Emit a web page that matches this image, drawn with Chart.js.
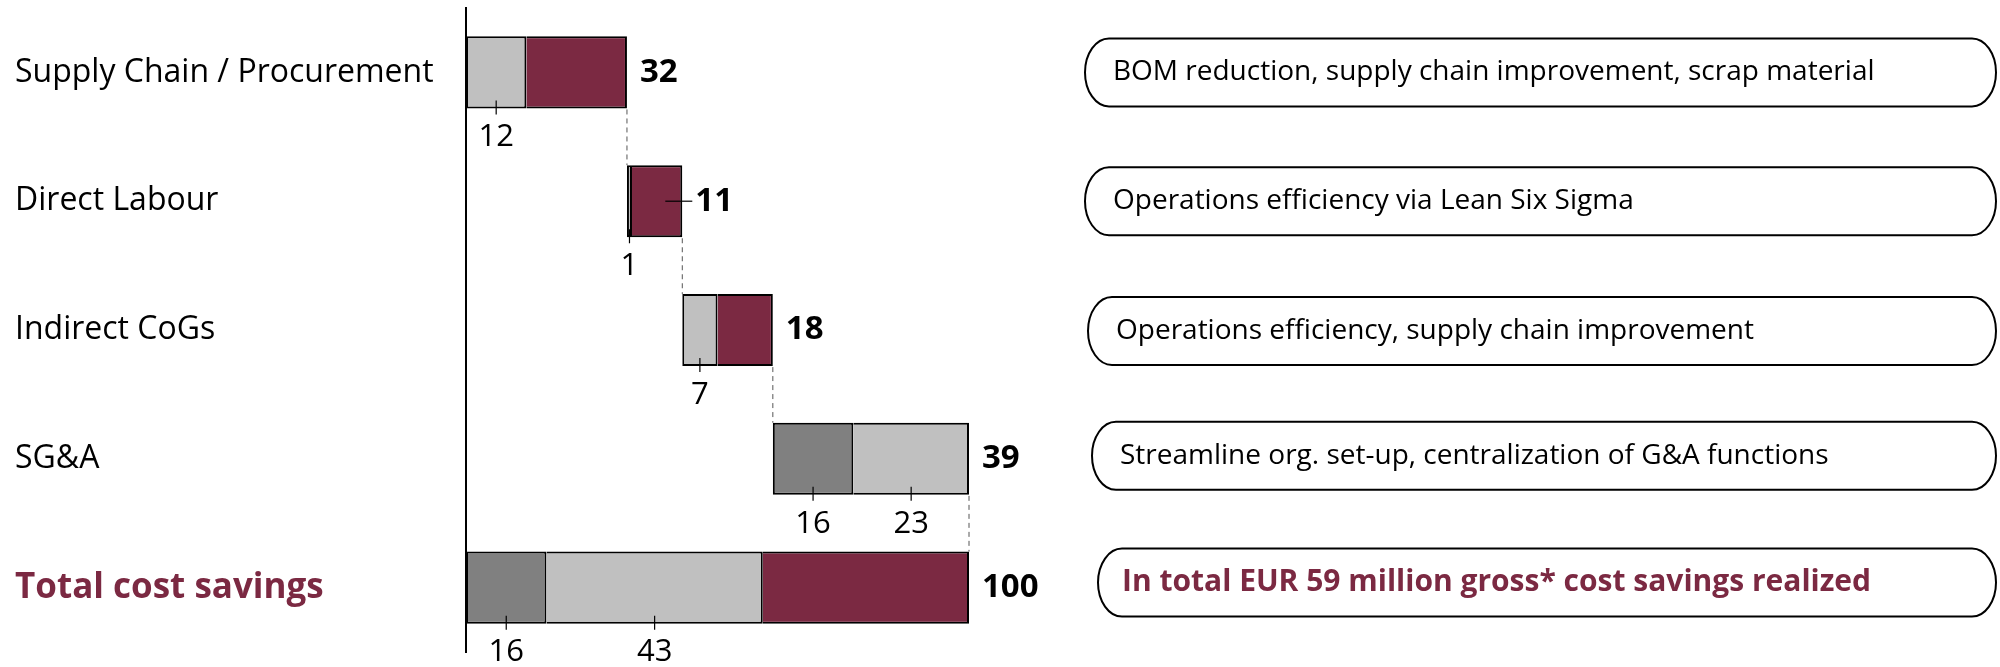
<!DOCTYPE html>
<html>
<head>
<meta charset="utf-8">
<script src="https://cdn.jsdelivr.net/npm/chart.js@4.4.1/dist/chart.umd.min.js"></script>
<style>
  html, body { margin: 0; padding: 0; background: #fff; }
  #wrap { position: relative; width: 2000px; height: 667px; }
</style>
</head>
<body>
<div id="wrap"><canvas id="chart"></canvas></div>
<script>
// waterfall of cost savings, values in % of total
const categories = ["Supply Chain / Procurement", "Direct Labour", "Indirect CoGs", "SG&A", "Total cost savings"]
const darkGray = [null, null, null, 16, 16]
const lightGray = [12, 1, 7, 23, 43]
const maroon = [20, 10, 11, null, 41]
const notes = [
  "BOM reduction, supply chain improvement, scrap material",
  "Operations efficiency via Lean Six Sigma",
  "Operations efficiency, supply chain improvement",
  "Streamline org. set-up, centralization of G&A functions",
  "In total EUR 59 million gross* cost savings realized"
]
const totalRow = 4

const MAROON = "#7b2942"
const LIGHT = "#c0c0c0"
const DARK = "#808080"
const FONT = '"Open Sans", sans-serif'

const segs = [darkGray, lightGray, maroon]
const totals = categories.map((_, i) => segs.reduce((s, d) => s + (d[i] || 0), 0))
let run = 0
const offsets = categories.map((_, i) => {
  if (i === totalRow) return null
  const b = run
  run += totals[i]
  return b || null
})

// first visible segment of a row gets the left border
const firstSeg = (i) => 1 + segs.findIndex((d) => d[i] != null)
const segBorder = (ctx) => ({
  top: 2, bottom: 2, right: 2,
  left: firstSeg(ctx.dataIndex) === ctx.datasetIndex ? 2 : 0
})

const overlay = {
  id: "overlay",
  afterDatasetsDraw(chart) {
    const { ctx, scales: { x, y } } = chart
    const barH = chart.getDatasetMeta(2).data[0].height

    const rows = categories.map((_, i) => {
      const yc = y.getPixelForValue(i)
      const start = offsets[i] || 0
      return {
        yc,
        top: yc - barH / 2,
        bottom: yc + barH / 2,
        xEnd: x.getPixelForValue(start + totals[i])
      }
    })

    ctx.save()

    // dashed connectors
    ctx.strokeStyle = "#555"
    ctx.lineWidth = 1
    ctx.setLineDash([5, 4])
    for (let i = 0; i < rows.length - 1; i++) {
      ctx.beginPath()
      ctx.moveTo(rows[i].xEnd, rows[i].bottom + 1)
      ctx.lineTo(rows[i].xEnd, rows[i + 1].top)
      ctx.stroke()
    }
    ctx.setLineDash([])

    // gray segment values below the bars
    ctx.fillStyle = "#000"
    ctx.strokeStyle = "#000"
    ctx.lineWidth = 1.2
    ctx.font = `31px ${FONT}`
    ctx.textAlign = "center"
    ctx.textBaseline = "middle"
    ;[1, 2].forEach((ds) => {
      const meta = chart.getDatasetMeta(ds)
      segs[ds - 1].forEach((v, i) => {
        if (v == null) return
        const el = meta.data[i]
        const cx = (el.x + el.base) / 2
        const b = rows[i].bottom
        ctx.beginPath()
        ctx.moveTo(cx, b - 8)
        ctx.lineTo(cx, b + 6)
        ctx.stroke()
        ctx.fillText(String(v), cx, b + 29)
      })
    })

    // totals at the bar ends
    ctx.font = `bold 33px ${FONT}`
    ctx.textAlign = "left"
    rows.forEach((r, i) => {
      ctx.fillText(String(totals[i]), r.xEnd + 13, r.yc)
    })
    // small leader on the narrow bar
    ctx.beginPath()
    ctx.moveTo(rows[1].xEnd - 17, rows[1].yc)
    ctx.lineTo(rows[1].xEnd + 10, rows[1].yc)
    ctx.stroke()

    // comment boxes on the right
    const boxLeft = [1085, 1085, 1088, 1092, 1098]
    const boxShift = [0, 0, 1, -3, -5]
    const boxRight = 1996
    const rx = 24, ry = 34
    ctx.lineWidth = 2
    rows.forEach((r, i) => {
      const l = boxLeft[i]
      const cy = r.yc + boxShift[i]
      ctx.beginPath()
      ctx.moveTo(l + rx, cy - ry)
      ctx.lineTo(boxRight - rx, cy - ry)
      ctx.ellipse(boxRight - rx, cy, rx, ry, 0, -Math.PI / 2, Math.PI / 2)
      ctx.lineTo(l + rx, cy + ry)
      ctx.ellipse(l + rx, cy, rx, ry, 0, Math.PI / 2, Math.PI * 1.5)
      ctx.closePath()
      ctx.stroke()

      const bold = i === totalRow
      ctx.font = bold ? `bold 30px ${FONT}` : `28px ${FONT}`
      ctx.fillStyle = bold ? MAROON : "#000"
      ctx.fillText(notes[i], l + (bold ? 24 : 28), cy)
    })

    ctx.restore()
  }
}

new Chart(document.getElementById("chart"), {
  type: "bar",
  data: {
    labels: categories,
    datasets: [
      { label: "base", data: offsets, backgroundColor: "rgba(0,0,0,0)", borderWidth: 0 },
      { label: "dark", data: darkGray, backgroundColor: DARK },
      { label: "light", data: lightGray, backgroundColor: LIGHT },
      { label: "maroon", data: maroon, backgroundColor: MAROON }
    ]
  },
  options: {
    indexAxis: "y",
    responsive: true,
    maintainAspectRatio: false,
    animation: false,
    layout: { padding: { left: 15, top: 8, right: 1031, bottom: 15 } },
    datasets: {
      bar: {
        categoryPercentage: 1,
        barPercentage: 0.56,
        borderColor: "#000",
        borderSkipped: false,
        borderWidth: segBorder
      }
    },
    plugins: {
      legend: { display: false },
      tooltip: { enabled: false }
    },
    scales: {
      x: { stacked: true, min: 0, max: 100, display: false },
      y: {
        stacked: true,
        grid: { display: false, drawTicks: false },
        border: { display: true, color: "#000", width: 2 },
        afterFit: (s) => {
          s.width = 451
          s.paddingTop = 0
          s.paddingBottom = 0
        },
        ticks: {
          crossAlign: "far",
          padding: 0,
          color: (c) => (c.index === totalRow ? MAROON : "#000"),
          font: (c) => c.index === totalRow
            ? { family: FONT, size: 35, weight: "bold" }
            : { family: FONT, size: 32, weight: "normal" }
        }
      }
    }
  },
  plugins: [overlay]
})
</script>
</body>
</html>
